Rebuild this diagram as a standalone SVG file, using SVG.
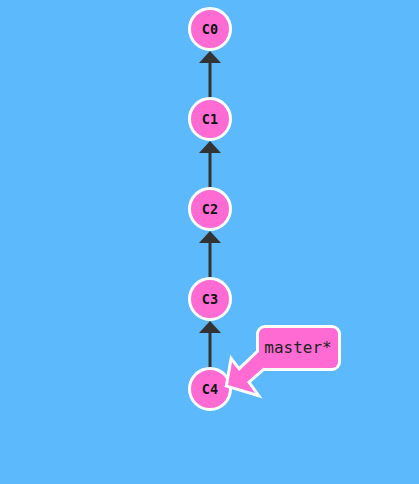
<svg xmlns="http://www.w3.org/2000/svg" width="419" height="484" viewBox="0 0 419 484">
<defs>
<polygon id="arr" points="228,385 232,362 239,371 262,349 272,360 247,382 255,393"/>
<rect id="box" x="259" y="328" width="79" height="40" rx="6"/>
</defs>
<style>
.node circle{fill:#ff6bd3;stroke:#fff;stroke-width:3}
.node text{font-family:"DejaVu Sans Mono","Liberation Mono",monospace;font-weight:bold;font-size:13.5px;fill:#111;text-anchor:middle}
.edge line{stroke:#333;stroke-width:3}
.edge polygon{fill:#333}
.outline{fill:#fff;stroke:#fff;stroke-width:6;stroke-linejoin:miter}
.fillp{fill:#ff6bd3}
.branch text{font-family:"DejaVu Sans Mono","Liberation Mono",monospace;font-size:16px;fill:#222;text-anchor:middle}
</style>
<rect width="419" height="484" fill="#5cb9fc"/>
<g id="connectors" class="edge">
<line x1="210" y1="62" x2="210" y2="98"/><polygon points="210,51 221,63 199,63"/>
<line x1="210" y1="152" x2="210" y2="188"/><polygon points="210,141 221,153 199,153"/>
<line x1="210" y1="242" x2="210" y2="278"/><polygon points="210,231 221,243 199,243"/>
<line x1="210" y1="332" x2="210" y2="368"/><polygon points="210,321 221,333 199,333"/>
</g>
<g id="C0" class="node"><circle cx="210" cy="29" r="20.5"/><text x="210" y="34">C0</text></g>
<g id="C1" class="node"><circle cx="210" cy="119" r="20.5"/><text x="210" y="124">C1</text></g>
<g id="C2" class="node"><circle cx="210" cy="209" r="20.5"/><text x="210" y="214">C2</text></g>
<g id="C3" class="node"><circle cx="210" cy="299" r="20.5"/><text x="210" y="304">C3</text></g>
<g id="C4" class="node"><circle cx="210" cy="389" r="20.5"/><text x="210" y="394">C4</text></g>
<g id="master" class="branch">
<use href="#arr" class="outline"/>
<use href="#box" class="outline"/>
<use href="#arr" class="fillp"/>
<use href="#box" class="fillp"/>
<text x="298" y="353">master*</text>
</g>
</svg>
